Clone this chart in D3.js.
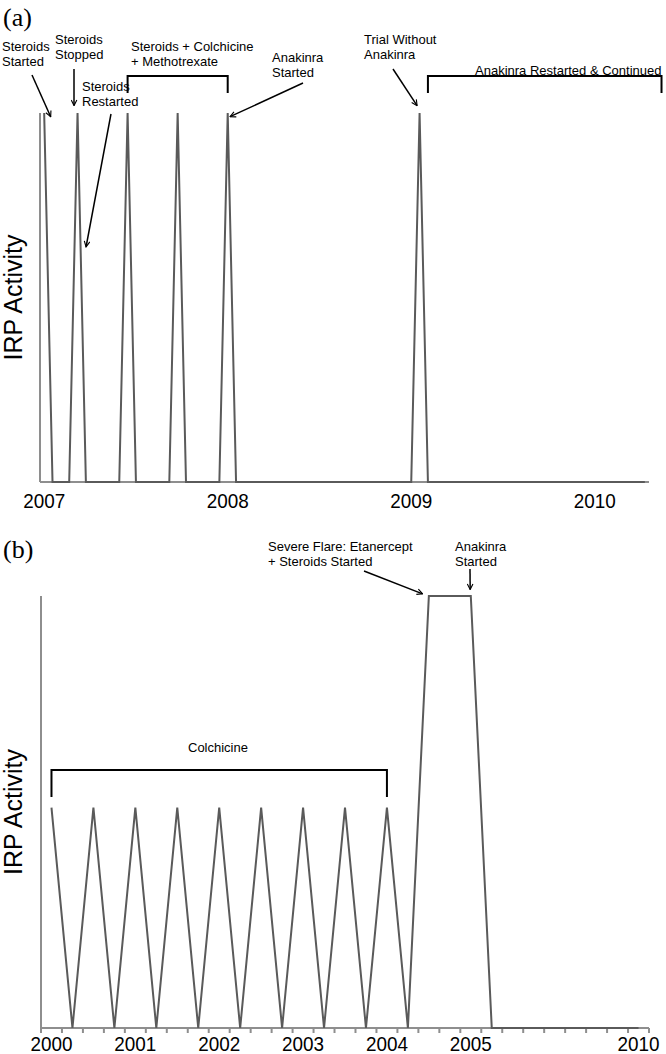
<!DOCTYPE html>
<html lang="en">
  <head>
    <meta charset="UTF-8" />
    <title>IRP Activity</title>
    <script src="https://d3js.org/d3.v7.min.js"></script>
    <style>
      body { margin: 0; background: #fff; }
      svg text { font-family: "Liberation Sans", Arial, sans-serif; fill: #000; }
      .panel-tag { font-family: "Liberation Serif", "Times New Roman", serif !important; font-size: 26px; }
      .note { font-size: 13px; }
      .tick-label { font-size: 21px; }
      .ylab { font-size: 25px; }
      .axis { stroke: #8e8e8e; stroke-width: 2; fill: none; }
      .series { stroke: #5a5a5a; stroke-width: 2; fill: none; }
      .bracket { stroke: #000; stroke-width: 2; fill: none; }
      .arrow { stroke: #000; stroke-width: 1.5; fill: none; }
    </style>
  </head>
  <body>
    <svg width="666" height="1054"></svg>
    <script>
      // panel (a): one value per category (IRP activity, 0 = quiet, 1 = flare)
      const valuesA = [
        1, 0, 0, 0, 1, 0, 0, 0, 0, 0,
        1, 0, 0, 0, 0, 0, 1, 0, 0, 0,
        0, 0, 1, 0, 0, 0, 0, 0, 0, 0,
        0, 0, 0, 0, 0, 0, 0, 0, 0, 0,
        0, 0, 0, 0, 0, 1, 0, 0, 0, 0,
        0, 0, 0, 0, 0, 0, 0, 0, 0, 0,
        0, 0, 0, 0, 0, 0, 0, 0, 0, 0,
        0, 0, 0
      ];
      const tickCatsA = [0, 22, 44, 66];
      const tickLabelsA = ["2007", "2008", "2009", "2010"];

      // panel (b)
      const valuesB = [
        0.51, 0, 0.51, 0, 0.51, 0, 0.51, 0, 0.51, 0,
        0.51, 0, 0.51, 0, 0.51, 0, 0.51, 0, 1, 1,
        1, 0, 0, 0, 0, 0, 0, 0, 0
      ];
      const tickCatsB = [0, 4, 8, 12, 16, 20, 28];
      const tickLabelsB = ["2000", "2001", "2002", "2003", "2004", "2005", "2010"];

      const svg = d3.select("svg");

      const defs = svg.append("defs");
      defs.append("marker")
        .attr("id", "head")
        .attr("viewBox", "0 0 10 10")
        .attr("refX", 9).attr("refY", 5)
        .attr("markerWidth", 7).attr("markerHeight", 7)
        .attr("markerUnits", "userSpaceOnUse")
        .attr("orient", "auto")
        .append("path")
        .attr("d", "M1,1 L9,5 L1,9")
        .attr("fill", "none")
        .attr("stroke", "#000")
        .attr("stroke-width", 1.6);

      function drawPanel(cfg) {
        const g = svg.append("g");
        const n = cfg.values.length;
        // category index -> x (category i is centred at i + 0.5)
        const x = d3.scaleLinear().domain([0, n]).range([cfg.x0, cfg.x1]);
        const y = d3.scaleLinear().domain([0, 1]).range([cfg.base, cfg.top]);

        // axes
        g.append("line").attr("class", "axis")
          .attr("x1", x(0)).attr("x2", x(0))
          .attr("y1", y(0)).attr("y2", y(1));
        g.append("line").attr("class", "axis")
          .attr("x1", x(0)).attr("x2", x(n))
          .attr("y1", y(0)).attr("y2", y(0));

        if (cfg.minorTicks) {
          g.append("g").selectAll("line")
            .data(d3.range(n + 1))
            .join("line")
            .attr("class", "axis")
            .attr("x1", (d) => x(d)).attr("x2", (d) => x(d))
            .attr("y1", y(0)).attr("y2", y(0) + 5);
        }

        // narrow-looking year labels, as in the source figure
        g.append("g").selectAll("text")
          .data(cfg.tickCats)
          .join("text")
          .attr("class", "tick-label")
          .attr("text-anchor", "middle")
          .attr("x", (d) => x(d + 0.5))
          .attr("y", cfg.labelY)
          .attr("textLength", 42)
          .attr("lengthAdjust", "spacingAndGlyphs")
          .text((d, i) => cfg.tickLabels[i]);

        const line = d3.line()
          .x((d, i) => x(i + 0.5))
          .y((d) => y(d));
        g.append("path").attr("class", "series").attr("d", line(cfg.values));

        // y title
        g.append("text")
          .attr("class", "ylab")
          .attr("text-anchor", "middle")
          .attr("transform", `translate(22,${(y(0) + y(1)) / 2}) rotate(-90)`)
          .text("IRP Activity");

        g.append("text")
          .attr("class", "panel-tag")
          .attr("x", 3).attr("y", cfg.tagY)
          .text(cfg.tag);

        // brackets: [fromCat, toCat, topY, legY]
        cfg.brackets.forEach((b) => {
          g.append("path").attr("class", "bracket")
            .attr("d", `M${x(b[0] + 0.5)},${b[3]} V${b[2]} H${x(b[1] + 0.5)} V${b[3]}`);
        });

        // arrows: tail in px, head in data terms [cat position, value]
        cfg.arrows.forEach((a) => {
          g.append("line").attr("class", "arrow")
            .attr("x1", a.tail[0]).attr("y1", a.tail[1])
            .attr("x2", x(a.head[0])).attr("y2", y(a.head[1]))
            .attr("marker-end", "url(#head)");
        });

        cfg.notes.forEach((t) => {
          const txt = g.append("text").attr("class", "note")
            .attr("x", t.x).attr("y", t.y)
            .attr("text-anchor", t.anchor || "start");
          t.lines.forEach((s, i) => {
            txt.append("tspan").attr("x", t.x).attr("dy", i ? 15 : 0).text(s);
          });
        });
      }

      drawPanel({
        values: valuesA,
        tickCats: tickCatsA,
        tickLabels: tickLabelsA,
        x0: 40, x1: 649, base: 482, top: 113,
        labelY: 508, tag: "(a)", tagY: 26,
        minorTicks: false,
        brackets: [[10, 22, 76, 93], [46, 74, 76, 93]],
        arrows: [
          { tail: [32, 75], head: [1.28, 0.99] },
          { tail: [74, 69], head: [4.08, 1.02] },
          { tail: [111, 114], head: [5.52, 0.637] },
          { tail: [303, 83], head: [22.78, 0.99] },
          { tail: [393, 69], head: [45.2, 1.02] }
        ],
        notes: [
          { x: 2, y: 51, lines: ["Steroids", "Started"] },
          { x: 55, y: 44, lines: ["Steroids", "Stopped"] },
          { x: 82, y: 91, lines: ["Steroids", "Restarted"] },
          { x: 131, y: 51, lines: ["Steroids + Colchicine", "+ Methotrexate"] },
          { x: 272, y: 62, lines: ["Anakinra", "Started"] },
          { x: 364, y: 44, lines: ["Trial Without", "Anakinra"] },
          { x: 475, y: 75, lines: ["Anakinra Restarted & Continued"] }
        ]
      });

      drawPanel({
        values: valuesB,
        tickCats: tickCatsB,
        tickLabels: tickLabelsB,
        x0: 41, x1: 649, base: 1028, top: 596,
        labelY: 1051, tag: "(b)", tagY: 558,
        minorTicks: true,
        brackets: [[0, 16, 770, 797]],
        arrows: [
          { tail: [364, 571], head: [18.2, 1.005] },
          { tail: [470, 569], head: [20.47, 1.015] }
        ],
        notes: [
          { x: 268, y: 551, lines: ["Severe Flare: Etanercept", "+ Steroids Started"] },
          { x: 455, y: 551, lines: ["Anakinra", "Started"] },
          { x: 218, y: 752, anchor: "middle", lines: ["Colchicine"] }
        ]
      });
    </script>
  </body>
</html>
